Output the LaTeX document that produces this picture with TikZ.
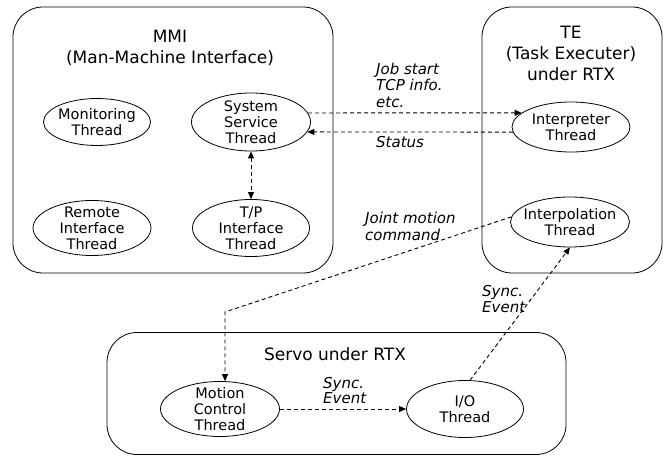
\documentclass[tikz,border=0pt]{standalone}
\usepackage{fontspec}
\setmainfont{DejaVu Sans}
\usetikzlibrary{shapes.geometric,arrows.meta}

\begin{document}
\begin{tikzpicture}[x=1bp,y=-1bp]
% Diagram style
\tikzset{
    box/.style={draw, rounded corners=30bp, line width=0.8bp, inner sep=0},
    boxtitle/.style={align=center, inner sep=0, font=\fontsize{17bp}{21bp}\selectfont},
    thread/.style={ellipse, draw, line width=0.8bp, inner sep=0, minimum width=118bp, minimum height=55bp},
    threadtext/.style={align=center, inner sep=0, font=\fontsize{14.5bp}{16bp}\selectfont},
    msg/.style={align=left, inner sep=0, anchor=west, font=\fontsize{15bp}{16.5bp}\selectfont\itshape},
    flow/.style={dash pattern=on 4bp off 3bp, line width=0.9bp, -{Triangle[length=7bp,width=6bp]}}
}
\useasboundingbox (0,0) rectangle (668,456);
% Boxes
\node[box, minimum width=320bp, minimum height=266bp] (MMI) at (173,140){};
\node[box, minimum width=180bp, minimum height=266bp] (TE) at (572,140){};
\node[box, minimum width=459bp, minimum height=122bp] (Servo) at (336.5,393.5){};
\node[boxtitle] (MMItitle) at (170,47.5){MMI\\(Man-Machine Interface)};
\node[boxtitle] (TEtitle) at (571,53){TE\\(Task Executer)\\under RTX};
\node[boxtitle] (Servotitle) at (335,354){Servo under RTX};
% Threads
\node[thread, minimum width=107bp, minimum height=47bp, label={[threadtext]center:Monitoring\\Thread}] (Mon) at (97,122){};
\node[thread, minimum width=119bp, minimum height=58bp, label={[threadtext]center:System\\Service\\Thread}] (Sys) at (251,122){};
\node[thread, label={[threadtext]center:Remote\\Interface\\Thread}] (Rem) at (92,228){};
\node[thread, minimum width=117bp, minimum height=57bp, label={[threadtext]center:T/P\\Interface\\Thread}] (TP) at (251,228){};
\node[thread, minimum height=50bp, label={[threadtext]center:Interpreter\\Thread}] (Interp) at (571,127){};
\node[thread, minimum width=119bp, minimum height=50bp, label={[threadtext]center:Interpolation\\Thread}] (Interpol) at (570,222){};
\node[thread, minimum width=119bp, label={[threadtext]center:Motion\\Control\\Thread}] (Motion) at (220,409){};
\node[thread, minimum width=117bp, minimum height=57bp, label={[threadtext]center:I/O\\Thread}] (IO) at (465,409){};
% Connection
\coordinate (bend) at (225,312);
\draw[flow] (Sys.9) -- (Interp.164);
\draw[flow] (Interp.185) -- (Sys.350);
\draw[flow, {Triangle[length=7bp,width=6bp]}-{Triangle[length=7bp,width=6bp]}] (Sys.south) -- (TP.north);
\draw[flow] (Interpol.175) -- (bend) -- (bend |- Motion.north);
\draw[flow] (Motion.east) -- (IO.west);
\draw[flow] (IO.80) -- (Interpol.south);
% Messages
\node[msg] (job) at (376,85){Job start\\TCP info.\\etc.};
\node[msg] (status) at (376,142){Status};
\node[msg] (joint) at (365,226.5){Joint motion\\command};
\node[msg, font=\fontsize{15bp}{15bp}\selectfont\itshape] (syncA) at (323,390.5){Sync.\\Event};
\node[msg] (syncB) at (482,299){Sync.\\Event};

\end{tikzpicture}
\end{document}
